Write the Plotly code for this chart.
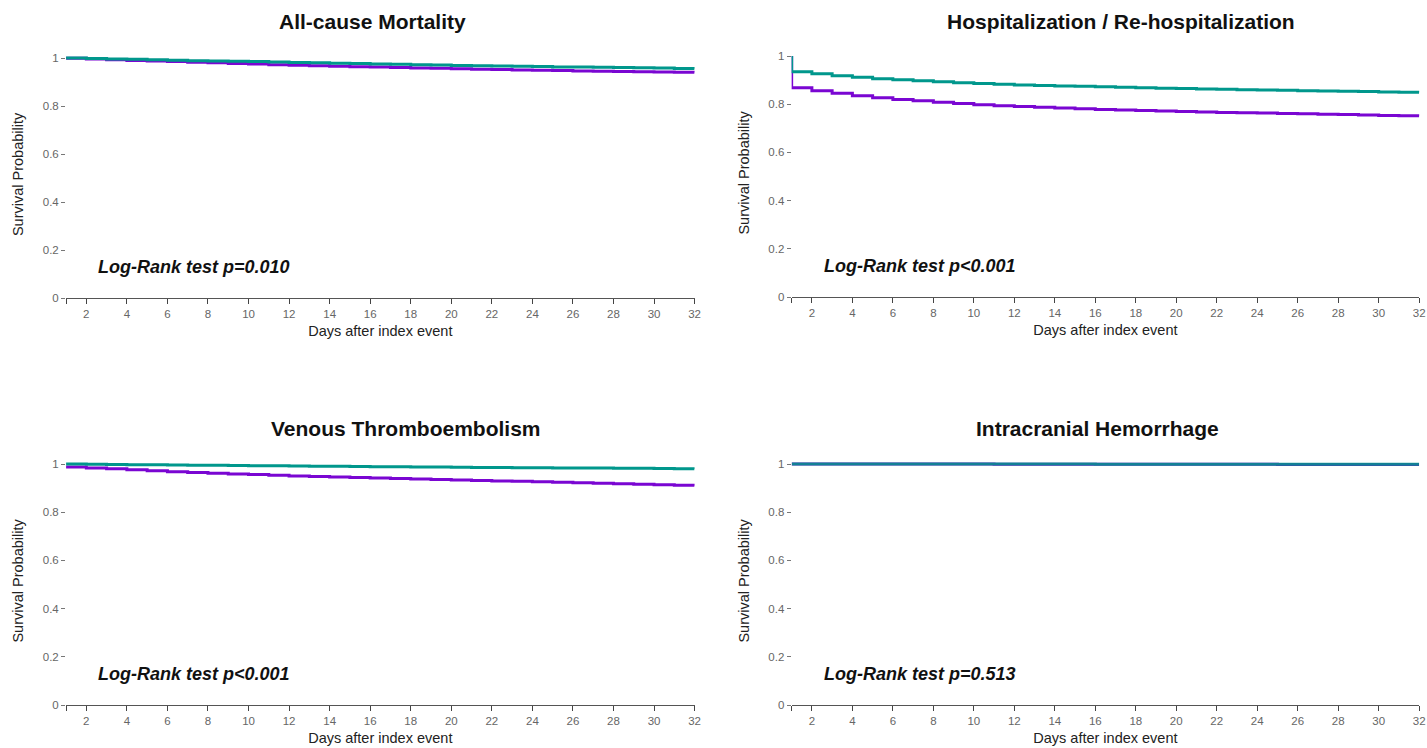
import plotly.graph_objects as go

# ---------------- data ----------------
days = list(range(1, 33))

panel_titles = ["All-cause Mortality", "Hospitalization / Re-hospitalization",
                "Venous Thromboembolism", "Intracranial Hemorrhage"]
pvalue_labels = ["Log-Rank test p=0.010", "Log-Rank test p<0.001",
                 "Log-Rank test p<0.001", "Log-Rank test p=0.513"]

teal_mortality = [1.000, 0.998, 0.996, 0.995, 0.993, 0.991, 0.989, 0.988, 0.986, 0.985, 0.983,
                  0.981, 0.980, 0.978, 0.977, 0.975, 0.974, 0.972, 0.971, 0.969, 0.968, 0.967,
                  0.966, 0.965, 0.963, 0.962, 0.961, 0.960, 0.959, 0.958, 0.956, 0.955]
purple_mortality = [0.999, 0.996, 0.993, 0.990, 0.988, 0.985, 0.982, 0.980, 0.977, 0.975, 0.972,
                    0.970, 0.968, 0.966, 0.964, 0.962, 0.960, 0.958, 0.957, 0.955, 0.953, 0.952,
                    0.950, 0.949, 0.948, 0.946, 0.945, 0.944, 0.943, 0.942, 0.941, 0.940]

hosp_start = 1.0
teal_hosp = [0.935, 0.926, 0.918, 0.912, 0.906, 0.901, 0.897, 0.893, 0.889, 0.886, 0.883,
             0.880, 0.878, 0.876, 0.874, 0.872, 0.870, 0.868, 0.866, 0.865, 0.863, 0.862,
             0.860, 0.859, 0.858, 0.856, 0.855, 0.854, 0.853, 0.851, 0.850, 0.849]
purple_hosp = [0.868, 0.856, 0.845, 0.835, 0.827, 0.820, 0.814, 0.808, 0.803, 0.798, 0.794,
               0.790, 0.787, 0.784, 0.781, 0.778, 0.776, 0.774, 0.772, 0.770, 0.768, 0.766,
               0.765, 0.763, 0.761, 0.760, 0.758, 0.757, 0.755, 0.753, 0.752, 0.750]

teal_vte = [1.000, 0.999, 0.998, 0.997, 0.997, 0.996, 0.995, 0.995, 0.994, 0.993, 0.993,
            0.992, 0.991, 0.991, 0.990, 0.989, 0.989, 0.988, 0.988, 0.987, 0.986, 0.986,
            0.985, 0.985, 0.984, 0.984, 0.983, 0.982, 0.982, 0.981, 0.980, 0.979]
purple_vte = [0.988, 0.984, 0.980, 0.976, 0.972, 0.968, 0.965, 0.962, 0.959, 0.956, 0.953,
              0.950, 0.948, 0.946, 0.944, 0.942, 0.940, 0.938, 0.936, 0.934, 0.932, 0.930,
              0.928, 0.926, 0.924, 0.922, 0.920, 0.918, 0.916, 0.914, 0.912, 0.910]

teal_ich = [1.000, 1.000, 1.000, 1.000, 1.000, 1.000, 1.000, 1.000, 1.000, 1.000, 1.000,
            1.000, 1.000, 1.000, 1.000, 0.999, 0.999, 0.999, 0.999, 0.999, 0.999, 0.999,
            0.999, 0.999, 0.999, 0.999, 0.999, 0.999, 0.999, 0.999, 0.999, 0.999]
purple_ich = [1.000, 1.000, 1.000, 1.000, 1.000, 1.000, 1.000, 1.000, 1.000, 1.000, 0.999,
              0.999, 0.999, 0.999, 0.999, 0.999, 0.999, 0.999, 0.999, 0.999, 0.999, 0.999,
              0.999, 0.999, 0.998, 0.998, 0.998, 0.998, 0.998, 0.998, 0.998, 0.998]

x_tick_vals = [1] + list(range(2, 33, 2))
x_tick_text = [""] + [str(v) for v in range(2, 33, 2)]
y_tick_vals = [0, 0.2, 0.4, 0.6, 0.8, 1]
y_tick_text = ["0", "0.2", "0.4", "0.6", "0.8", "1"]

# ---------------- styling / layout ----------------
SX, SY = 0.995, 0.992
W, H = 1434, 754
TEAL = "#00978C"
PURPLE = "#7A06D2"

# target pixel geometry of each panel: (x at day1, x at day32, y at 0, y at 1)
panels = [
    (66, 694, 298, 58),
    (791, 1418, 297, 56),
    (66, 694, 705, 464),
    (791, 1418, 705, 464),
]
title_centers = [(372, 21), (1120, 21), (406, 428), (1097, 428)]
teal_opacity = [1, 1, 1, 0.85]
YMAX = 1.03

series = [
    (days, teal_mortality, days, purple_mortality),
    ([1] + days, [hosp_start] + teal_hosp, [1] + days, [hosp_start] + purple_hosp),
    (days, teal_vte, days, purple_vte),
    (days, teal_ich, days, purple_ich),
]


def fx(px):
    return px / SX / W


def fy(py):
    return 1 - py / SY / H


fig = go.Figure()
for i, ((x0, x1, y0, y1), (tx, ty, px, py)) in enumerate(zip(panels, series)):
    n = i + 1
    xa = "x" if n == 1 else f"x{n}"
    ya = "y" if n == 1 else f"y{n}"
    fig.add_trace(go.Scatter(x=px, y=py, mode="lines", line=dict(color=PURPLE, width=3, shape="hv"),
                             xaxis=xa, yaxis=ya, showlegend=False, cliponaxis=False))
    fig.add_trace(go.Scatter(x=tx, y=ty, mode="lines", line=dict(color=TEAL, width=3, shape="hv"),
                             opacity=teal_opacity[i],
                             xaxis=xa, yaxis=ya, showlegend=False, cliponaxis=False))
    px_per_unit = (y0 - y1)
    top_px = y0 - px_per_unit * YMAX
    xdom = [fx(x0), fx(x1)]
    ydom = [fy(y0), fy(top_px)]
    xkey = "xaxis" if n == 1 else f"xaxis{n}"
    ykey = "yaxis" if n == 1 else f"yaxis{n}"
    fig.update_layout(**{
        xkey: dict(domain=xdom, range=[1, 32], anchor=ya, tickvals=x_tick_vals, ticktext=x_tick_text,
                   ticks="outside", ticklen=5, tickwidth=1, tickcolor="#444",
                   showline=True, linecolor="#555", linewidth=1, showgrid=False, zeroline=False,
                   tickfont=dict(family="Arial", size=11.5, color="#666"),
                   title=dict(text="Days after index event", standoff=7,
                              font=dict(family="Arial", size=14.5, color="#222"))),
        ykey: dict(domain=ydom, range=[0, YMAX], anchor=xa, tickvals=y_tick_vals, ticktext=y_tick_text,
                   ticks="outside", ticklen=4, tickwidth=1, tickcolor="#777",
                   showline=False, showgrid=False, zeroline=False,
                   tickfont=dict(family="Arial", size=11.5, color="#666"),
                   title=dict(text="Survival Probability", standoff=15,
                              font=dict(family="Arial", size=14.5, color="#222"))),
    })
    cx, cy = title_centers[i]
    fig.add_annotation(x=fx(cx), y=fy(cy), xref="paper", yref="paper", text=f"<b>{panel_titles[i]}</b>",
                       showarrow=False, xanchor="center", yanchor="middle",
                       font=dict(family="Arial", size=21, color="#111"))
    fig.add_annotation(x=2.5, y=0.13, xref=xa, yref=ya, text=f"<b><i>{pvalue_labels[i]}</i></b>",
                       showarrow=False, xanchor="left", yanchor="middle",
                       font=dict(family="Arial", size=18, color="#111"))

fig.update_layout(width=W, height=H, margin=dict(l=0, r=0, t=0, b=0),
                  paper_bgcolor="white", plot_bgcolor="white")
fig.write_html("out.html", config={"displayModeBar": False},
               post_script="document.body.style.margin='0';document.documentElement.style.overflow='hidden';document.body.style.overflow='hidden';")
